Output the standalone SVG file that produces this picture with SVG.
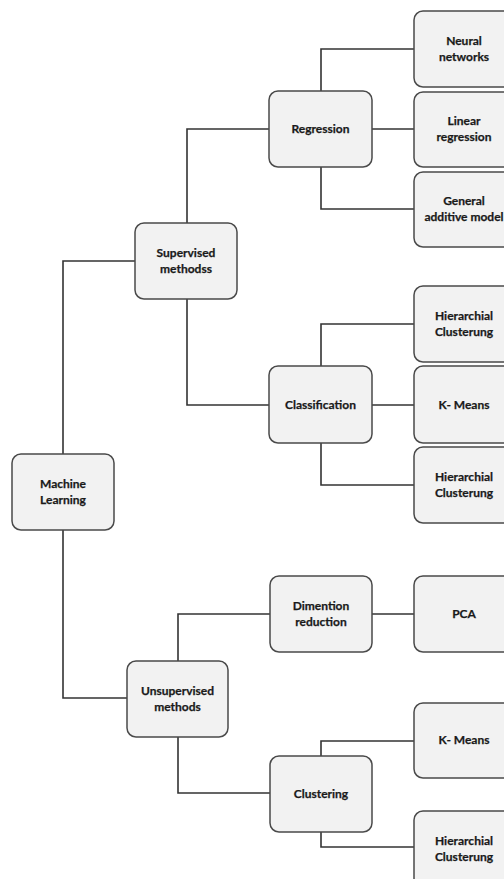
<svg xmlns="http://www.w3.org/2000/svg" width="504" height="879" viewBox="0 0 504 879">
<style>
.box{fill:#f2f2f2;stroke:#4a4a4a;stroke-width:1.5}
.lbl{font-family:Lato,"Liberation Sans",sans-serif;font-weight:bold;font-size:12px;fill:#1a1a1a;text-anchor:middle;stroke:#1a1a1a;stroke-width:0.25}
.con{fill:none;stroke:#333;stroke-width:1.6}
</style>
<rect width="504" height="879" fill="#fff"/>
<g id="connectors">
<path class="con" d="M63,454 V261 H135"/>
<path class="con" d="M63,530 V698 H127"/>
<path class="con" d="M187,223 V129 H269"/>
<path class="con" d="M187,299 V405 H269"/>
<path class="con" d="M321,91 V49 H414"/>
<path class="con" d="M372,129 H414"/>
<path class="con" d="M321,167 V209 H414"/>
<path class="con" d="M321,366 V324 H414"/>
<path class="con" d="M372,405 H414"/>
<path class="con" d="M321,443 V485 H414"/>
<path class="con" d="M178,661 V614 H270"/>
<path class="con" d="M178,737 V793 H270"/>
<path class="con" d="M372,614 H414"/>
<path class="con" d="M321,756 V741 H414"/>
<path class="con" d="M321,832 V847 H414"/>
</g>
<g id="machine-learning"><rect class="box" x="12" y="454" width="102" height="76" rx="9"/><text class="lbl" x="63" y="488">Machine</text><text class="lbl" x="63" y="504">Learning</text></g>
<g id="supervised"><rect class="box" x="135" y="223" width="102" height="76" rx="9"/><text class="lbl" x="186" y="257">Supervised</text><text class="lbl" x="186" y="273">methodss</text></g>
<g id="unsupervised"><rect class="box" x="127" y="661" width="101" height="76" rx="9"/><text class="lbl" x="177.5" y="695">Unsupervised</text><text class="lbl" x="177.5" y="711">methods</text></g>
<g id="regression"><rect class="box" x="269" y="91" width="103" height="76" rx="9"/><text class="lbl" x="320.5" y="133">Regression</text></g>
<g id="classification"><rect class="box" x="269" y="366" width="103" height="77" rx="9"/><text class="lbl" x="320.5" y="409">Classification</text></g>
<g id="dimension-reduction"><rect class="box" x="270" y="576" width="102" height="76" rx="9"/><text class="lbl" x="321" y="610">Dimention</text><text class="lbl" x="321" y="626">reduction</text></g>
<g id="clustering"><rect class="box" x="270" y="756" width="102" height="76" rx="9"/><text class="lbl" x="321" y="798">Clustering</text></g>
<g id="neural-networks"><rect class="box" x="414" y="11" width="101" height="76" rx="9"/><text class="lbl" x="464" y="45">Neural</text><text class="lbl" x="464" y="61">networks</text></g>
<g id="linear-regression"><rect class="box" x="414" y="92" width="101" height="75" rx="9"/><text class="lbl" x="464" y="125">Linear</text><text class="lbl" x="464" y="141">regression</text></g>
<g id="general-additive"><rect class="box" x="414" y="172" width="101" height="75" rx="9"/><text class="lbl" x="464" y="205">General</text><text class="lbl" x="464" y="221">additive model</text></g>
<g id="hierarchial-1"><rect class="box" x="414" y="286" width="101" height="76" rx="9"/><text class="lbl" x="464" y="320">Hierarchial</text><text class="lbl" x="464" y="336">Clusterung</text></g>
<g id="k-means-1"><rect class="box" x="414" y="366" width="101" height="77" rx="9"/><text class="lbl" x="464" y="409">K- Means</text></g>
<g id="hierarchial-2"><rect class="box" x="414" y="447" width="101" height="76" rx="9"/><text class="lbl" x="464" y="481">Hierarchial</text><text class="lbl" x="464" y="497">Clusterung</text></g>
<g id="pca"><rect class="box" x="414" y="576" width="101" height="76" rx="9"/><text class="lbl" x="464" y="618">PCA</text></g>
<g id="k-means-2"><rect class="box" x="414" y="703" width="101" height="75" rx="9"/><text class="lbl" x="464" y="744">K- Means</text></g>
<g id="hierarchial-3"><rect class="box" x="414" y="811" width="101" height="76" rx="9"/><text class="lbl" x="464" y="845">Hierarchial</text><text class="lbl" x="464" y="861">Clusterung</text></g>
</svg>
